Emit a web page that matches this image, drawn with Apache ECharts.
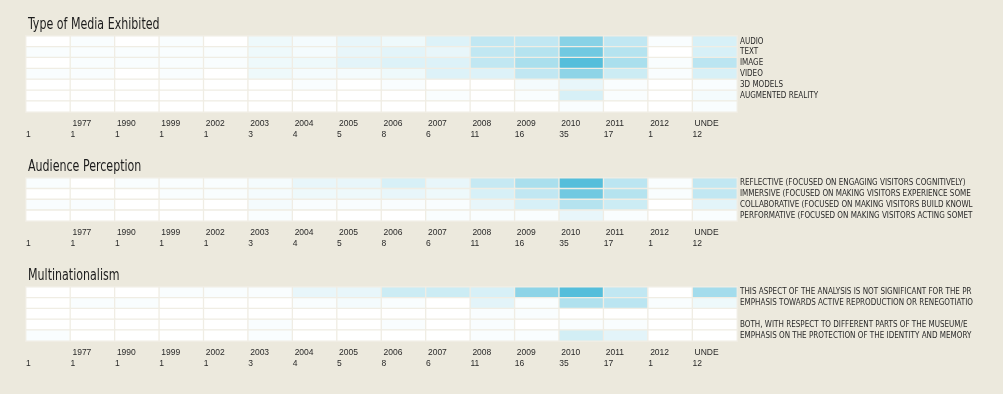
<!DOCTYPE html>
<html>
<head>
<meta charset="utf-8">
<script src="https://cdn.jsdelivr.net/npm/echarts@6/dist/echarts.min.js"></script>
<style>
html,body{margin:0;padding:0;background:#ece9dd;}
#chart{width:1003px;height:394px;}
</style>
</head>
<body>
<div id="chart"></div>
<script>
// ---- data ----
const years = ['', '1977', '1990', '1999', '2002', '2003', '2004', '2005', '2006', '2007', '2008', '2009', '2010', '2011', '2012', 'UNDE'];
const counts = [1, 1, 1, 1, 1, 3, 4, 5, 8, 6, 11, 16, 35, 17, 1, 12];

const mediaTitle = 'Type of Media Exhibited';
const mediaRows = ['AUDIO', 'TEXT', 'IMAGE', 'VIDEO', '3D MODELS', 'AUGMENTED REALITY', ''];
const mediaValues = [
  [0, 1, 0, 1, 0, 3, 2, 4, 3, 6, 11, 11, 21, 11, 1, 7],
  [1, 1, 1, 1, 1, 3, 2, 4, 5, 4, 11, 13, 25, 13, 0, 7],
  [0, 1, 1, 1, 1, 3, 3, 5, 6, 6, 11, 15, 30, 15, 1, 12],
  [1, 1, 0, 1, 0, 3, 2, 2, 3, 6, 6, 11, 20, 9, 1, 7],
  [0, 0, 0, 0, 0, 0, 1, 0, 1, 0, 0, 2, 4, 1, 0, 1],
  [0, 0, 0, 0, 0, 0, 0, 0, 0, 1, 0, 1, 7, 1, 0, 2],
  [0, 0, 0, 0, 0, 0, 0, 0, 0, 0, 0, 0, 1, 0, 0, 1]
];

const audienceTitle = 'Audience Perception';
const audienceRows = [
  'REFLECTIVE (FOCUSED ON ENGAGING VISITORS COGNITIVELY)',
  'IMMERSIVE (FOCUSED ON MAKING VISITORS EXPERIENCE SOME',
  'COLLABORATIVE (FOCUSED ON MAKING VISITORS BUILD KNOWLE',
  'PERFORMATIVE (FOCUSED ON MAKING VISITORS ACTING SOMET'
];
const audienceValues = [
  [1, 0, 1, 1, 1, 2, 4, 4, 7, 4, 10, 15, 30, 12, 1, 11],
  [0, 0, 0, 1, 1, 2, 3, 3, 4, 3, 7, 11, 25, 13, 1, 11],
  [1, 1, 0, 0, 0, 2, 1, 1, 1, 1, 4, 7, 13, 9, 0, 5],
  [0, 0, 0, 0, 0, 1, 0, 0, 0, 1, 1, 1, 4, 1, 0, 1]
];

const multiTitle = 'Multinationalism';
const multiRows = [
  'THIS ASPECT OF THE ANALYSIS IS NOT SIGNIFICANT FOR THE PR',
  'EMPHASIS TOWARDS ACTIVE REPRODUCTION OR RENEGOTIATION',
  '',
  'BOTH, WITH RESPECT TO DIFFERENT PARTS OF THE MUSEUM/E',
  'EMPHASIS ON THE PROTECTION OF THE IDENTITY AND MEMORY'
];
const multiValues = [
  [0, 0, 0, 1, 1, 1, 4, 4, 9, 9, 7, 20, 30, 11, 0, 16],
  [0, 1, 1, 0, 0, 0, 1, 2, 1, 0, 5, 1, 14, 12, 1, 3],
  [0, 0, 0, 0, 0, 0, 0, 0, 0, 0, 1, 1, 0, 0, 0, 0],
  [0, 0, 0, 0, 0, 1, 0, 0, 1, 0, 1, 0, 1, 1, 0, 0],
  [1, 0, 0, 0, 0, 1, 0, 0, 0, 0, 1, 1, 8, 5, 0, 0]
];

// ---- layout ----
const panels = [
  { title: mediaTitle, rows: mediaRows, values: mediaValues, top: 36, height: 76, titleY: 25.6 },
  { title: audienceTitle, rows: audienceRows, values: audienceValues, top: 178, height: 43, titleY: 167.6 },
  { title: multiTitle, rows: multiRows, values: multiValues, top: 287, height: 54, titleY: 276.6 }
];

const gridLeft = 26, gridRight = 1003 - 737;
const labelFont = '"DejaVu Sans Condensed", "Liberation Sans Narrow", sans-serif';
const numFont = '"Liberation Sans", Arial, sans-serif';

const grid = [], xAxis = [], yAxis = [], series = [], graphic = [];
const tickIds = [];
for (let i = 0; i <= years.length; i++) tickIds.push('t' + i);

panels.forEach((p, k) => {
  grid.push({ left: gridLeft, right: gridRight, top: p.top, height: p.height, containLabel: false });
  xAxis.push({
    type: 'category', gridIndex: k, data: years.map((y, i) => 'c' + i),
    show: false, boundaryGap: true
  });
  xAxis.push({
    type: 'category', gridIndex: k, data: tickIds, boundaryGap: false, position: 'bottom',
    axisLine: { show: false }, axisTick: { show: false }, splitLine: { show: false },
    axisLabel: {
      interval: 0, align: 'left', margin: 6,
      formatter: (v, i) => i < years.length ? '{y|' + (years[i] || ' ') + '}\n{c|' + counts[i] + '}' : '',
      rich: {
        y: { fontFamily: numFont, fontSize: 8.5, color: '#2a2a2a', lineHeight: 11, padding: [0, 0, 0, 2] },
        c: { fontFamily: numFont, fontSize: 8.5, color: '#2a2a2a', lineHeight: 11 }
      }
    }
  });
  yAxis.push({
    type: 'category', gridIndex: k, data: p.rows, inverse: true, position: 'right',
    axisLine: { show: false }, axisTick: { show: false }, splitLine: { show: false },
    axisLabel: {
      interval: 0, margin: 3, fontFamily: labelFont, fontSize: 8, color: '#2a2a2a',
      width: 236, overflow: 'truncate', ellipsis: ''
    }
  });
  const data = [];
  p.values.forEach((row, r) => row.forEach((v, c) => data.push([c, r, v])));
  series.push({
    type: 'heatmap', xAxisIndex: 2 * k, yAxisIndex: k, data: data,
    itemStyle: { borderColor: '#f0ede4', borderWidth: 1.3 },
    emphasis: { disabled: true }, label: { show: false }
  });
  graphic.push({
    type: 'text', x: 28, y: p.titleY, scaleX: 0.82,
    style: { text: p.title, x: 0, y: 0, verticalAlign: 'middle', align: 'left',
             font: '15px ' + labelFont, fill: '#1c1c1c' }
  });
});

const chart = echarts.init(document.getElementById('chart'), null, { renderer: 'canvas' });
chart.setOption({
  backgroundColor: '#ece9dd',
  animation: false,
  grid, xAxis, yAxis, series, graphic,
  visualMap: {
    type: 'continuous', show: false, min: 0, max: 30, seriesIndex: [0, 1, 2],
    inRange: { color: ['#ffffff', '#55bedb'] }
  },
  tooltip: { show: false }
});
</script>
</body>
</html>
